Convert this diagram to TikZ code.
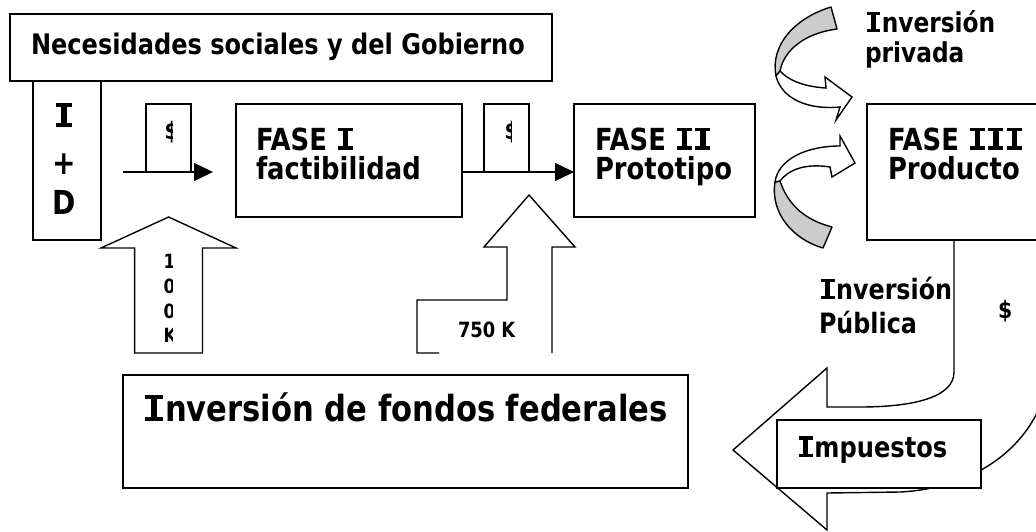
\documentclass[tikz,border=0pt]{standalone}
\usepackage{fontspec}
\setmainfont{DejaVu Sans}[FakeStretch=0.85]
\newcommand\Ii{\begingroup\dimen0=\fontcharht\font`I\relax
  \kern0.08\dimen0
  \rlap{\rule{0.68\dimen0}{0.16\dimen0}}%
  \rlap{\rule[0.84\dimen0]{0.68\dimen0}{0.16\dimen0}}%
  \kern0.22\dimen0\rule{0.24\dimen0}{\dimen0}\kern0.22\dimen0
  \kern0.08\dimen0\endgroup}
\usetikzlibrary{arrows.meta}
\begin{document}
\begin{tikzpicture}[x=1pt,y=-1pt,
  box/.style={draw, line width=1.4pt, fill=white, inner sep=0pt, outer sep=0pt, anchor=north west},
  txt/.style={inner sep=0pt, outer sep=0pt, anchor=base west, font=\bfseries\fontsize{#1}{#1}\selectfont},
  ctxt/.style={inner sep=0pt, outer sep=0pt, anchor=center, font=\bfseries\fontsize{#1}{#1}\selectfont},
  ln/.style={line width=1.4pt, line join=miter},
  ribbon/.style={line width=1.4pt, fill=gray!40, line join=round},
  ribbonw/.style={line width=1.4pt, fill=white, line join=miter}]
\useasboundingbox (0,0) rectangle (1036,531);
\clip (0,0) rectangle (1036,531);

% U-shaped block arrow (Inversion Publica -> Impuestos)
\draw[ln, fill=white] (954,240) -- (954,372) .. controls (954,400) and (905,407) .. (860,407)
  -- (827,407) -- (827,368) -- (733,450) -- (827,530) -- (827,493) -- (900,492)
  .. controls (980,488) and (1050,440) .. (1052,350) -- (1052,240);

% boxes
\node[box, minimum width=68, minimum height=159] (id) at (33,81) {};
\node[box, minimum width=542, minimum height=67] (nec) at (10,14) {};
\node[box, minimum width=45, minimum height=68] (d1) at (146,104) {};
\node[box, minimum width=226, minimum height=113] (f1) at (236,104) {};
\node[box, minimum width=45, minimum height=68] (d2) at (484,104) {};
\node[box, minimum width=181, minimum height=113] (f2) at (574,104) {};
\node[box, minimum width=180, minimum height=136] (f3) at (867,104) {};
\node[box, minimum width=565, minimum height=113] (fed) at (123,375) {};
\node[box, minimum width=204, minimum height=68] (imp) at (777,420) {};

% horizontal arrows
\coordinate (a1s) at (123,172);
\coordinate (a1e) at (213,172);
\draw[ln, -{Triangle[length=19pt,width=18pt]}] (a1s) -- (a1e);
\draw[ln, -{Triangle[length=19pt,width=18pt]}] (f1.east |- d2.south) -- (f2.west |- d2.south);

% up block arrows
\draw[ln, fill=white] (168.6,217) -- (236,248) -- (202.5,248) -- (202.5,353) -- (134.6,353)
  -- (134.6,248) -- (101,248) -- cycle;
\draw[ln] (439,353) -- (417,353) -- (417,300) -- (507,300) -- (507,247) -- (484,247)
  -- (529,195) -- (575,247) -- (552,247) -- (552,353);

% curved ribbon arrows
\draw[ribbon] (831,7) .. controls (795,18) and (770,45) .. (776,76) -- (780,71)
  .. controls (784,50) and (805,33) .. (837,29) -- cycle;
\draw[ribbonw] (780,71) .. controls (790,82) and (808,87) .. (826,88) -- (825,77) -- (852,97)
  -- (836,120) -- (840,107) .. controls (810,110) and (782,100) .. (776,76) -- cycle;
\draw[ribbon] (823,248) .. controls (795,240) and (770,215) .. (775,182) -- (780,181)
  .. controls (788,205) and (805,220) .. (832,227) -- cycle;
\draw[ribbonw] (775,182) .. controls (778,160) and (805,146) .. (840,146) -- (840,136) -- (855,163)
  -- (832,177) -- (830,167) .. controls (805,163) and (788,170) .. (780,181) -- cycle;

% texts
\node[txt=28.3] (tnec) at (31,54) {Necesidades sociales y del Gobierno};
\node[ctxt=33] (tI) at (64,115) {\Ii};
\node[ctxt=33] (tplus) at (64,164) {+};
\node[ctxt=33] (tD) at (64,202.5) {D};
\node[txt=30.4] (tf1a) at (256,150) {FASE \Ii};
\node[txt=30.4] (tf1b) at (256,179) {factibilidad};
\node[txt=30.4] (tf2a) at (595,150) {FASE \Ii\Ii};
\node[txt=30.4] (tf2b) at (595,179) {Prototipo};
\node[txt=30.4] (tf3a) at (888,150) {FASE \Ii\Ii\Ii};
\node[txt=30.4] (tf3b) at (888,179) {Producto};
\node[txt=27.4] (tipa) at (865,32) {\Ii nversión};
\node[txt=27.4] (tipb) at (865,62) {privada};
\node[txt=28] (tpua) at (819,299) {\Ii nversión};
\node[txt=28] (tpub) at (819,333) {Pública};
\node[txt=28.4] (timp) at (797,457) {\Ii mpuestos};
\node[txt=36] (tfed) at (143,421) {\Ii nversión de fondos federales};
\node[txt=21] (t750) at (458,337) {750 K};

% clipped labels
\begin{scope}
  \clip (146,104) rectangle (172,172);
  \node[txt=24] (s1) at (164.5,139.5) {\$};
\end{scope}
\begin{scope}
  \clip (484,104) rectangle (511.5,172);
  \node[txt=24] (s2) at (504.5,139.5) {\$};
\end{scope}
\begin{scope}
  \clip (990,290) rectangle (1010,330);
  \node[txt=24] (s3) at (998,318.5) {\$};
\end{scope}
\begin{scope}
  \clip (150,250) rectangle (172.5,350);
  \node[txt=19.6, anchor=west] (k1) at (163.5,261.5) {1};
  \node[txt=19.6, anchor=west] (k2) at (163.5,286.5) {0};
  \node[txt=19.6, anchor=west] (k3) at (163.5,311) {0};
  \node[txt=19.6, anchor=west] (k4) at (163.5,335) {K};
\end{scope}
\end{tikzpicture}
\end{document}
